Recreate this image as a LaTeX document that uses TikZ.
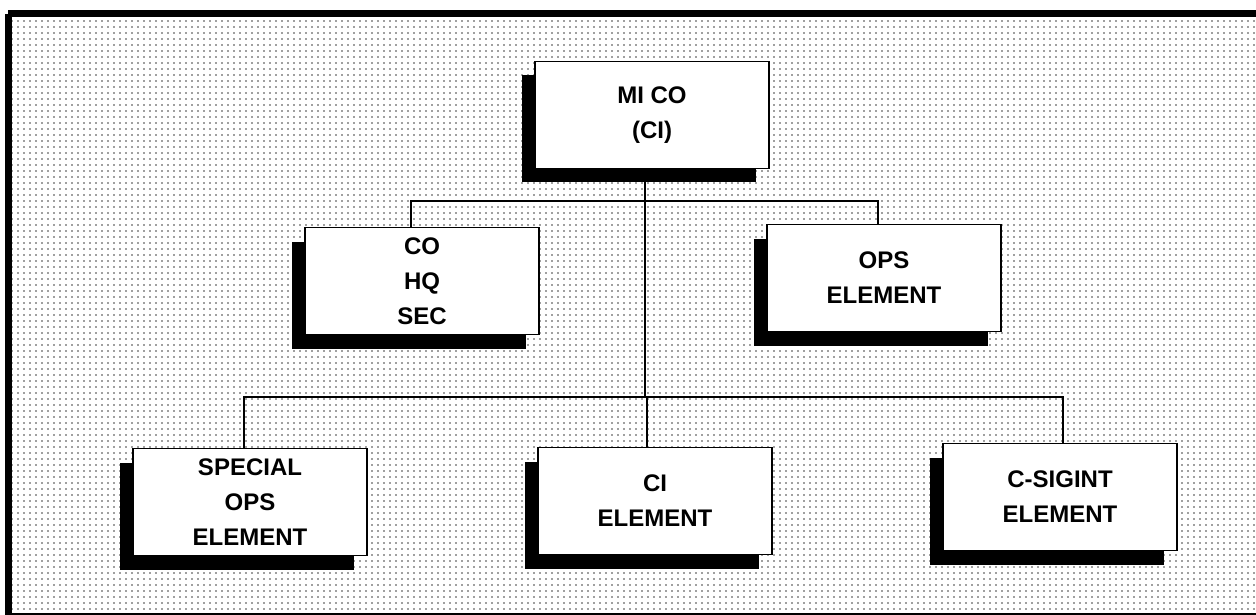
\documentclass[tikz,border=0pt]{standalone}
\usepackage{fontspec}
\setmainfont{Liberation Sans}
\usetikzlibrary{positioning, shadows, patterns.meta}

\begin{document}
\begin{tikzpicture}[
    x=1pt, y=-1pt,
    unit/.style={rectangle, draw, line width=1.4pt, fill=white, minimum width=234pt, minimum height=107pt, align=center, font=\fontsize{24}{35}\selectfont\bfseries, drop shadow={shadow xshift=-13pt, shadow yshift=-14pt, fill=black, opacity=1}},
    link/.style={line width=1.2pt}
]
    \useasboundingbox (0,0) rectangle (1256,615);

    % Dotted background and frame
    \fill[white] (0,0) rectangle (1256,615);
    \fill[pattern={Dots[distance=6pt, radius=0.8pt]}, pattern color=black!75] (8,14) rectangle (1256,615);
    \draw[line width=7pt] (8,14) -- (1262,14);
    \draw[line width=7pt] (8,14) -- (8,620);
    \draw[line width=2pt] (8,614) -- (1262,614);

    % Headquarters
    \node[unit] (mico) at (652,115) {MI CO\\(CI)};

    % Second tier
    \node[unit] (cohq) at (422,281) {CO\\HQ\\SEC};
    \node[unit] (ops) at (884,278) {OPS\\ELEMENT};

    % Third tier
    \node[unit] (special) at (250,502) {SPECIAL\\OPS\\ELEMENT};
    \node[unit] (ci) at (655,501) {CI\\ELEMENT};
    \node[unit] (csigint) at (1060,497) {C-SIGINT\\ELEMENT};

    % Bars
    \coordinate (upper) at (645,201);
    \coordinate (lower) at (645,397);

    % Connectors
    \draw[link] ([xshift=-7pt]mico.south) -- ([xshift=-7pt]mico.south |- lower);
    \draw[link] ([xshift=-11pt]cohq.north) |- (upper) -| ([xshift=-6pt]ops.north);
    \draw[link] ([xshift=-6pt]special.north) |- (lower) -| ([xshift=3pt]csigint.north);
    \draw[link] ([xshift=-8pt]ci.north) -- ([xshift=-8pt]ci.north |- lower);

\end{tikzpicture}
\end{document}
